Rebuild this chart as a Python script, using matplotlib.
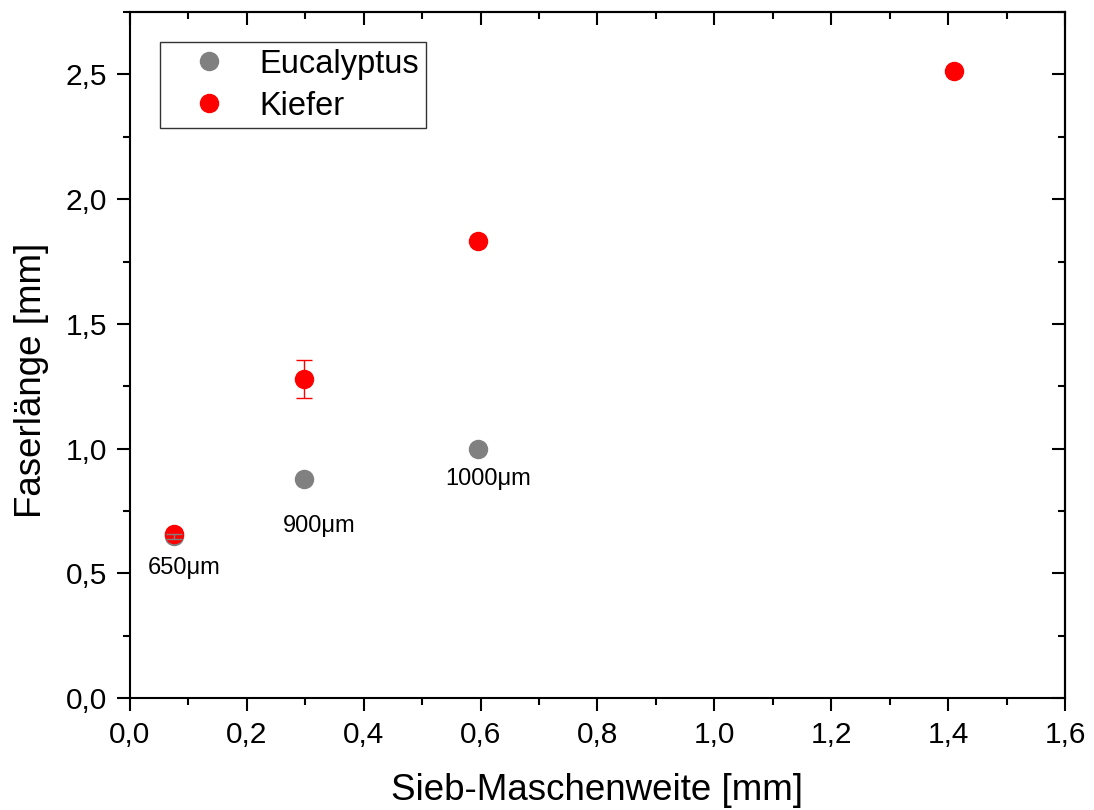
import matplotlib
matplotlib.use("Agg")
import matplotlib.pyplot as plt
from matplotlib.ticker import MultipleLocator, FuncFormatter
from matplotlib.lines import Line2D

plt.rcParams['font.family'] = ['Liberation Sans', 'DejaVu Sans']

# Data
euc_x = [0.075, 0.297, 0.595]
euc_y = [0.648, 0.878, 0.998]
euc_err = [0.01, 0.0, 0.0]
kie_x = [0.075, 0.297, 0.595, 1.41]
kie_y = [0.657, 1.279, 1.832, 2.513]
kie_err = [0.005, 0.077, 0.0, 0.0]
labels = ["650\u03bcm", "900\u03bcm", "1000\u03bcm"]
series_names = ["Eucalyptus", "Kiefer"]

# styling (label offsets in points relative to the Eucalyptus points)
label_offsets = [(7.3, -27.4), (11.1, -38.2), (7.6, -25.9)]
GRAY = '#808080'
RED = '#ff0000'

fig = plt.figure(figsize=(10.94, 8.10), dpi=100)
ax = fig.add_axes([0.1188, 0.1383, 0.9735 - 0.1188, 0.985 - 0.1383])

ax.plot(euc_x, euc_y, 'o', color=GRAY, ms=13, zorder=2)
ax.plot(kie_x, kie_y, 'o', color=RED, ms=13, zorder=3)
ax.errorbar(kie_x, kie_y, yerr=kie_err, fmt='none', ecolor=RED,
            elinewidth=1, capsize=6, capthick=1, zorder=3.5)
ax.errorbar(euc_x, euc_y, yerr=euc_err, fmt='none', ecolor=GRAY,
            elinewidth=1, capsize=5.5, capthick=1, zorder=4)

for t, x, y, off in zip(labels, euc_x, euc_y, label_offsets):
    ax.annotate(t, (x, y), xytext=off, textcoords='offset points',
                ha='center', va='baseline', fontsize=17)

ax.set_xlim(0, 1.6)
ax.set_ylim(0, 2.75)
ax.xaxis.set_major_locator(MultipleLocator(0.2))
ax.xaxis.set_minor_locator(MultipleLocator(0.1))
ax.yaxis.set_major_locator(MultipleLocator(0.5))
ax.yaxis.set_minor_locator(MultipleLocator(0.25))
fmt = FuncFormatter(lambda v, p: f"{v:.1f}".replace('.', ','))
ax.xaxis.set_major_formatter(fmt)
ax.yaxis.set_major_formatter(fmt)

LW = 1.5
for s in ax.spines.values():
    s.set_linewidth(LW)

ax.tick_params(which='major', direction='out', length=9.4, width=LW, labelsize=21.5)
ax.tick_params(which='minor', direction='out', length=5, width=LW)
ax.tick_params(axis='x', which='major', pad=7)
ax.tick_params(axis='y', which='major', pad=7)
ax.tick_params(which='both', top=False, right=False)
ax2 = ax.secondary_xaxis('top')
ax2.xaxis.set_major_locator(MultipleLocator(0.2))
ax2.xaxis.set_minor_locator(MultipleLocator(0.1))
ax2.tick_params(which='major', direction='in', length=9.4, width=LW, labeltop=False)
ax2.tick_params(which='minor', direction='in', length=5, width=LW)
ax2.spines['top'].set_linewidth(LW)
ay2 = ax.secondary_yaxis('right')
ay2.yaxis.set_major_locator(MultipleLocator(0.5))
ay2.yaxis.set_minor_locator(MultipleLocator(0.25))
ay2.tick_params(which='major', direction='in', length=9.4, width=LW, labelright=False)
ay2.tick_params(which='minor', direction='in', length=5, width=LW)
ay2.spines['right'].set_linewidth(LW)

ax.set_xlabel('Sieb-Maschenweite [mm]', fontsize=26.5)
ax.set_ylabel('Faserlänge [mm]', fontsize=26.5)
ax.xaxis.set_label_coords(0.5, -0.109)
ax.yaxis.set_label_coords(-0.0866, 0.4636)

handles = [Line2D([], [], ls='none', marker='o', color=GRAY, ms=13),
           Line2D([], [], ls='none', marker='o', color=RED, ms=13)]
leg = ax.legend(handles, series_names, loc='upper left',
                bbox_to_anchor=(0.032, 0.956), borderaxespad=0, fontsize=23.5,
                frameon=True, fancybox=False, edgecolor='black',
                borderpad=0.2, labelspacing=0.33, handlelength=2.6, handletextpad=0.25)
leg.get_frame().set_linewidth(1)

fig.savefig('out.png', dpi=100)
